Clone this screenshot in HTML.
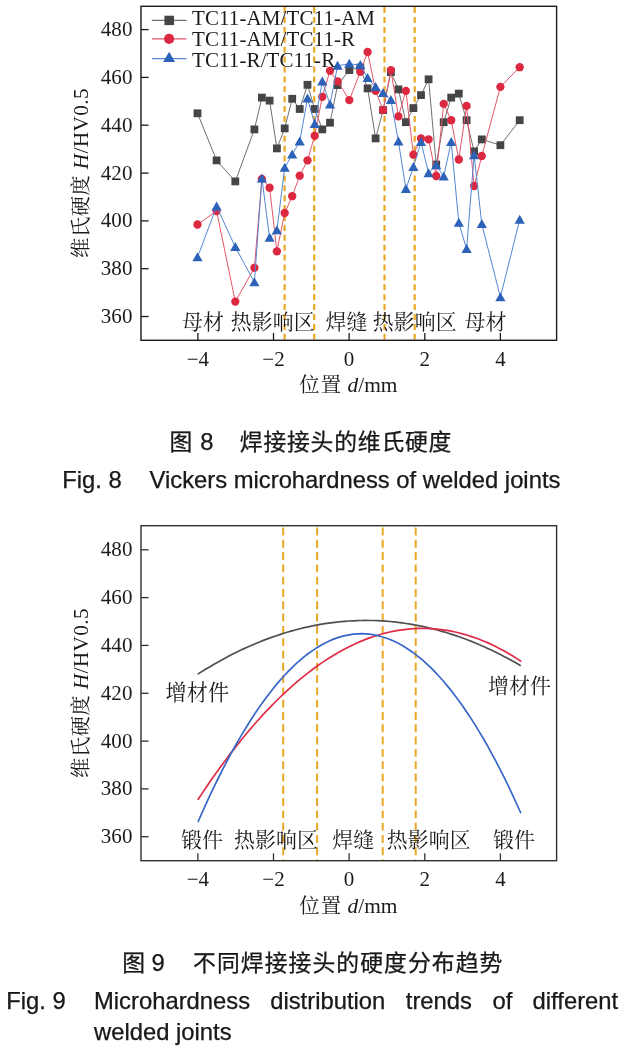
<!DOCTYPE html>
<html lang="zh"><head><meta charset="utf-8"><title>Fig 8-9</title>
<style>html,body{margin:0;padding:0;background:#fff}svg{display:block}text{fill:#1a1a1a}</style></head><body>
<svg width="623" height="1054" viewBox="0 0 623 1054">
<rect width="623" height="1054" fill="#fff"/>
<g id="chart1">
<line x1="284.6" y1="7.1" x2="284.6" y2="339.5" stroke="#e9a825" stroke-width="2.2" stroke-dasharray="6 3.9" stroke-dashoffset="0"/>
<line x1="314.2" y1="7.1" x2="314.2" y2="339.5" stroke="#e9a825" stroke-width="2.2" stroke-dasharray="6 3.9" stroke-dashoffset="0"/>
<line x1="384.5" y1="7.1" x2="384.5" y2="339.5" stroke="#e9a825" stroke-width="2.2" stroke-dasharray="6 3.9" stroke-dashoffset="0"/>
<line x1="414.7" y1="7.1" x2="414.7" y2="339.5" stroke="#e9a825" stroke-width="2.2" stroke-dasharray="6 3.9" stroke-dashoffset="0"/>
<polyline points="197.5,113.3 216.6,160.4 235.3,181.4 254.4,129.4 261.9,97.6 269.6,100.6 276.9,148.4 284.7,128.4 292.2,98.8 299.7,109.0 307.5,84.8 314.7,109.0 322.3,129.4 330.0,122.7 337.6,85.1 349.3,70.1 360.3,67.5 367.6,88.4 375.6,138.4 383.1,110.1 390.9,72.1 398.4,89.4 405.9,122.2 413.4,108.1 421.0,95.1 428.6,79.3 436.2,164.5 443.7,122.2 451.2,97.6 458.8,93.6 466.6,120.2 474.1,151.4 481.8,139.4 500.4,145.2 519.7,120.2" fill="none" stroke="#707070" stroke-width="1"/>
<rect x="193.6" y="109.4" width="7.8" height="7.8" fill="#454547"/>
<rect x="212.7" y="156.5" width="7.8" height="7.8" fill="#454547"/>
<rect x="231.4" y="177.5" width="7.8" height="7.8" fill="#454547"/>
<rect x="250.5" y="125.5" width="7.8" height="7.8" fill="#454547"/>
<rect x="258.0" y="93.7" width="7.8" height="7.8" fill="#454547"/>
<rect x="265.7" y="96.7" width="7.8" height="7.8" fill="#454547"/>
<rect x="273.0" y="144.5" width="7.8" height="7.8" fill="#454547"/>
<rect x="280.8" y="124.5" width="7.8" height="7.8" fill="#454547"/>
<rect x="288.3" y="94.9" width="7.8" height="7.8" fill="#454547"/>
<rect x="295.8" y="105.1" width="7.8" height="7.8" fill="#454547"/>
<rect x="303.6" y="80.9" width="7.8" height="7.8" fill="#454547"/>
<rect x="310.8" y="105.1" width="7.8" height="7.8" fill="#454547"/>
<rect x="318.4" y="125.5" width="7.8" height="7.8" fill="#454547"/>
<rect x="326.1" y="118.8" width="7.8" height="7.8" fill="#454547"/>
<rect x="333.7" y="81.2" width="7.8" height="7.8" fill="#454547"/>
<rect x="345.4" y="66.2" width="7.8" height="7.8" fill="#454547"/>
<rect x="356.4" y="63.6" width="7.8" height="7.8" fill="#454547"/>
<rect x="363.7" y="84.5" width="7.8" height="7.8" fill="#454547"/>
<rect x="371.7" y="134.5" width="7.8" height="7.8" fill="#454547"/>
<rect x="379.2" y="106.2" width="7.8" height="7.8" fill="#454547"/>
<rect x="387.0" y="68.2" width="7.8" height="7.8" fill="#454547"/>
<rect x="394.5" y="85.5" width="7.8" height="7.8" fill="#454547"/>
<rect x="402.0" y="118.3" width="7.8" height="7.8" fill="#454547"/>
<rect x="409.5" y="104.2" width="7.8" height="7.8" fill="#454547"/>
<rect x="417.1" y="91.2" width="7.8" height="7.8" fill="#454547"/>
<rect x="424.7" y="75.4" width="7.8" height="7.8" fill="#454547"/>
<rect x="432.3" y="160.6" width="7.8" height="7.8" fill="#454547"/>
<rect x="439.8" y="118.3" width="7.8" height="7.8" fill="#454547"/>
<rect x="447.3" y="93.7" width="7.8" height="7.8" fill="#454547"/>
<rect x="454.9" y="89.7" width="7.8" height="7.8" fill="#454547"/>
<rect x="462.7" y="116.3" width="7.8" height="7.8" fill="#454547"/>
<rect x="470.2" y="147.5" width="7.8" height="7.8" fill="#454547"/>
<rect x="477.9" y="135.5" width="7.8" height="7.8" fill="#454547"/>
<rect x="496.5" y="141.3" width="7.8" height="7.8" fill="#454547"/>
<rect x="515.8" y="116.3" width="7.8" height="7.8" fill="#454547"/>
<polyline points="197.5,224.5 216.6,211.0 235.3,301.6 254.4,267.8 261.9,178.9 269.6,187.7 276.9,251.3 284.7,213.0 292.2,196.2 299.7,175.7 307.5,160.4 314.7,135.8 322.3,96.8 330.0,70.8 337.6,81.3 349.3,100.1 360.3,71.8 367.6,52.0 375.6,90.9 383.1,110.1 390.9,70.1 398.4,116.4 405.9,90.9 413.4,154.7 421.0,138.4 428.6,139.4 436.2,176.0 443.7,103.9 451.2,120.2 458.8,159.5 466.6,105.9 474.1,186.0 481.8,156.0 500.4,86.9 519.7,67.2" fill="none" stroke="#e4566a" stroke-width="1"/>
<circle cx="197.5" cy="224.5" r="4.15" fill="#dc2840"/>
<circle cx="216.6" cy="211.0" r="4.15" fill="#dc2840"/>
<circle cx="235.3" cy="301.6" r="4.15" fill="#dc2840"/>
<circle cx="254.4" cy="267.8" r="4.15" fill="#dc2840"/>
<circle cx="261.9" cy="178.9" r="4.15" fill="#dc2840"/>
<circle cx="269.6" cy="187.7" r="4.15" fill="#dc2840"/>
<circle cx="276.9" cy="251.3" r="4.15" fill="#dc2840"/>
<circle cx="284.7" cy="213.0" r="4.15" fill="#dc2840"/>
<circle cx="292.2" cy="196.2" r="4.15" fill="#dc2840"/>
<circle cx="299.7" cy="175.7" r="4.15" fill="#dc2840"/>
<circle cx="307.5" cy="160.4" r="4.15" fill="#dc2840"/>
<circle cx="314.7" cy="135.8" r="4.15" fill="#dc2840"/>
<circle cx="322.3" cy="96.8" r="4.15" fill="#dc2840"/>
<circle cx="330.0" cy="70.8" r="4.15" fill="#dc2840"/>
<circle cx="337.6" cy="81.3" r="4.15" fill="#dc2840"/>
<circle cx="349.3" cy="100.1" r="4.15" fill="#dc2840"/>
<circle cx="360.3" cy="71.8" r="4.15" fill="#dc2840"/>
<circle cx="367.6" cy="52.0" r="4.15" fill="#dc2840"/>
<circle cx="375.6" cy="90.9" r="4.15" fill="#dc2840"/>
<circle cx="383.1" cy="110.1" r="4.15" fill="#dc2840"/>
<circle cx="390.9" cy="70.1" r="4.15" fill="#dc2840"/>
<circle cx="398.4" cy="116.4" r="4.15" fill="#dc2840"/>
<circle cx="405.9" cy="90.9" r="4.15" fill="#dc2840"/>
<circle cx="413.4" cy="154.7" r="4.15" fill="#dc2840"/>
<circle cx="421.0" cy="138.4" r="4.15" fill="#dc2840"/>
<circle cx="428.6" cy="139.4" r="4.15" fill="#dc2840"/>
<circle cx="436.2" cy="176.0" r="4.15" fill="#dc2840"/>
<circle cx="443.7" cy="103.9" r="4.15" fill="#dc2840"/>
<circle cx="451.2" cy="120.2" r="4.15" fill="#dc2840"/>
<circle cx="458.8" cy="159.5" r="4.15" fill="#dc2840"/>
<circle cx="466.6" cy="105.9" r="4.15" fill="#dc2840"/>
<circle cx="474.1" cy="186.0" r="4.15" fill="#dc2840"/>
<circle cx="481.8" cy="156.0" r="4.15" fill="#dc2840"/>
<circle cx="500.4" cy="86.9" r="4.15" fill="#dc2840"/>
<circle cx="519.7" cy="67.2" r="4.15" fill="#dc2840"/>
<polyline points="197.5,257.3 216.6,206.5 235.3,247.0 254.4,282.3 261.9,178.4 269.6,237.8 276.9,230.3 284.7,167.7 292.2,154.6 299.7,141.6 307.5,98.4 314.7,124.1 322.3,81.4 330.0,104.4 337.6,65.8 349.3,63.8 360.3,65.1 367.6,78.1 375.6,87.1 383.1,93.1 390.9,100.1 398.4,141.4 405.9,189.0 413.4,167.0 421.0,141.9 428.6,173.2 436.2,165.2 443.7,176.5 451.2,141.9 458.8,222.8 466.6,249.1 474.1,155.2 481.8,224.1 500.4,297.2 519.7,219.8" fill="none" stroke="#5586d4" stroke-width="1"/>
<polygon points="197.5,252.3 192.4,261.3 202.6,261.3" fill="#2c62b8"/>
<polygon points="216.6,201.5 211.5,210.5 221.7,210.5" fill="#2c62b8"/>
<polygon points="235.3,242.0 230.2,251.0 240.4,251.0" fill="#2c62b8"/>
<polygon points="254.4,277.3 249.3,286.3 259.5,286.3" fill="#2c62b8"/>
<polygon points="261.9,173.4 256.8,182.4 267.0,182.4" fill="#2c62b8"/>
<polygon points="269.6,232.8 264.5,241.8 274.7,241.8" fill="#2c62b8"/>
<polygon points="276.9,225.3 271.8,234.3 282.0,234.3" fill="#2c62b8"/>
<polygon points="284.7,162.7 279.6,171.7 289.8,171.7" fill="#2c62b8"/>
<polygon points="292.2,149.6 287.1,158.6 297.3,158.6" fill="#2c62b8"/>
<polygon points="299.7,136.6 294.6,145.6 304.8,145.6" fill="#2c62b8"/>
<polygon points="307.5,93.4 302.4,102.4 312.6,102.4" fill="#2c62b8"/>
<polygon points="314.7,119.1 309.6,128.1 319.8,128.1" fill="#2c62b8"/>
<polygon points="322.3,76.4 317.2,85.4 327.4,85.4" fill="#2c62b8"/>
<polygon points="330.0,99.4 324.9,108.4 335.1,108.4" fill="#2c62b8"/>
<polygon points="337.6,60.8 332.5,69.8 342.7,69.8" fill="#2c62b8"/>
<polygon points="349.3,58.8 344.2,67.8 354.4,67.8" fill="#2c62b8"/>
<polygon points="360.3,60.1 355.2,69.1 365.4,69.1" fill="#2c62b8"/>
<polygon points="367.6,73.1 362.5,82.1 372.7,82.1" fill="#2c62b8"/>
<polygon points="375.6,82.1 370.5,91.1 380.7,91.1" fill="#2c62b8"/>
<polygon points="383.1,88.1 378.0,97.1 388.2,97.1" fill="#2c62b8"/>
<polygon points="390.9,95.1 385.8,104.1 396.0,104.1" fill="#2c62b8"/>
<polygon points="398.4,136.4 393.3,145.4 403.5,145.4" fill="#2c62b8"/>
<polygon points="405.9,184.0 400.8,193.0 411.0,193.0" fill="#2c62b8"/>
<polygon points="413.4,162.0 408.3,171.0 418.5,171.0" fill="#2c62b8"/>
<polygon points="421.0,136.9 415.9,145.9 426.1,145.9" fill="#2c62b8"/>
<polygon points="428.6,168.2 423.5,177.2 433.7,177.2" fill="#2c62b8"/>
<polygon points="436.2,160.2 431.1,169.2 441.3,169.2" fill="#2c62b8"/>
<polygon points="443.7,171.5 438.6,180.5 448.8,180.5" fill="#2c62b8"/>
<polygon points="451.2,136.9 446.1,145.9 456.3,145.9" fill="#2c62b8"/>
<polygon points="458.8,217.8 453.7,226.8 463.9,226.8" fill="#2c62b8"/>
<polygon points="466.6,244.1 461.5,253.1 471.7,253.1" fill="#2c62b8"/>
<polygon points="474.1,150.2 469.0,159.2 479.2,159.2" fill="#2c62b8"/>
<polygon points="481.8,219.1 476.7,228.1 486.9,228.1" fill="#2c62b8"/>
<polygon points="500.4,292.2 495.3,301.2 505.5,301.2" fill="#2c62b8"/>
<polygon points="519.7,214.8 514.6,223.8 524.8,223.8" fill="#2c62b8"/>
<line x1="151.8" y1="20.4" x2="186.4" y2="20.4" stroke="#707070" stroke-width="1.1"/>
<rect x="164.4" y="15.7" width="9.6" height="9.4" fill="#454547"/>
<text x="192.0" y="25.3" font-family='"Liberation Serif","Noto Serif CJK SC",serif' font-size="21" letter-spacing="0.1">TC11-AM/TC11-AM</text>
<line x1="151.8" y1="38.9" x2="186.4" y2="38.9" stroke="#e4566a" stroke-width="1.1"/>
<circle cx="169.1" cy="38.9" r="5.1" fill="#dc2840"/>
<text x="192.0" y="46.0" font-family='"Liberation Serif","Noto Serif CJK SC",serif' font-size="21" letter-spacing="0.1">TC11-AM/TC11-R</text>
<line x1="151.8" y1="58.6" x2="186.4" y2="58.6" stroke="#5586d4" stroke-width="1.1"/>
<polygon points="169.1,51.7 163.1,62.0 175.1,62.0" fill="#2c62b8"/>
<text x="192.0" y="67.0" font-family='"Liberation Serif","Noto Serif CJK SC",serif' font-size="21" letter-spacing="0.1">TC11-R/TC11-R</text>
<text x="182.0" y="328.5" text-anchor="start" font-family='"Liberation Serif","Noto Serif CJK SC",serif' font-size="20.9" font-weight="400" letter-spacing="0.1">母材</text>
<text x="230.8" y="328.5" text-anchor="start" font-family='"Liberation Serif","Noto Serif CJK SC",serif' font-size="20.9" font-weight="400" letter-spacing="0.1">热影响区</text>
<text x="325.6" y="328.5" text-anchor="start" font-family='"Liberation Serif","Noto Serif CJK SC",serif' font-size="20.9" font-weight="400" letter-spacing="0.1">焊缝</text>
<text x="372.8" y="328.5" text-anchor="start" font-family='"Liberation Serif","Noto Serif CJK SC",serif' font-size="20.9" font-weight="400" letter-spacing="0.1">热影响区</text>
<text x="464.6" y="328.5" text-anchor="start" font-family='"Liberation Serif","Noto Serif CJK SC",serif' font-size="20.9" font-weight="400" letter-spacing="0.1">母材</text>
<rect x="141.0" y="6.3" width="415.6" height="334.0" fill="none" stroke="#1a1a1a" stroke-width="1.4"/>
<line x1="141.0" y1="316.5" x2="148.6" y2="316.5" stroke="#1a1a1a" stroke-width="1.3"/>
<text x="132.6" y="322.9" text-anchor="end" font-family='"Liberation Serif","Noto Serif CJK SC",serif' font-size="21" letter-spacing="0.15">360</text>
<line x1="141.0" y1="268.7" x2="148.6" y2="268.7" stroke="#1a1a1a" stroke-width="1.3"/>
<text x="132.6" y="275.1" text-anchor="end" font-family='"Liberation Serif","Noto Serif CJK SC",serif' font-size="21" letter-spacing="0.15">380</text>
<line x1="141.0" y1="220.9" x2="148.6" y2="220.9" stroke="#1a1a1a" stroke-width="1.3"/>
<text x="132.6" y="227.3" text-anchor="end" font-family='"Liberation Serif","Noto Serif CJK SC",serif' font-size="21" letter-spacing="0.15">400</text>
<line x1="141.0" y1="173.1" x2="148.6" y2="173.1" stroke="#1a1a1a" stroke-width="1.3"/>
<text x="132.6" y="179.5" text-anchor="end" font-family='"Liberation Serif","Noto Serif CJK SC",serif' font-size="21" letter-spacing="0.15">420</text>
<line x1="141.0" y1="125.2" x2="148.6" y2="125.2" stroke="#1a1a1a" stroke-width="1.3"/>
<text x="132.6" y="131.6" text-anchor="end" font-family='"Liberation Serif","Noto Serif CJK SC",serif' font-size="21" letter-spacing="0.15">440</text>
<line x1="141.0" y1="77.4" x2="148.6" y2="77.4" stroke="#1a1a1a" stroke-width="1.3"/>
<text x="132.6" y="83.8" text-anchor="end" font-family='"Liberation Serif","Noto Serif CJK SC",serif' font-size="21" letter-spacing="0.15">460</text>
<line x1="141.0" y1="29.6" x2="148.6" y2="29.6" stroke="#1a1a1a" stroke-width="1.3"/>
<text x="132.6" y="36.0" text-anchor="end" font-family='"Liberation Serif","Noto Serif CJK SC",serif' font-size="21" letter-spacing="0.15">480</text>
<line x1="197.9" y1="340.3" x2="197.9" y2="332.90000000000003" stroke="#1a1a1a" stroke-width="1.3"/>
<text x="197.9" y="365.9" text-anchor="middle" font-family='"Liberation Serif","Noto Serif CJK SC",serif' font-size="21">−4</text>
<line x1="273.5" y1="340.3" x2="273.5" y2="332.90000000000003" stroke="#1a1a1a" stroke-width="1.3"/>
<text x="273.5" y="365.9" text-anchor="middle" font-family='"Liberation Serif","Noto Serif CJK SC",serif' font-size="21">−2</text>
<line x1="349.1" y1="340.3" x2="349.1" y2="332.90000000000003" stroke="#1a1a1a" stroke-width="1.3"/>
<text x="349.1" y="365.9" text-anchor="middle" font-family='"Liberation Serif","Noto Serif CJK SC",serif' font-size="21">0</text>
<line x1="424.8" y1="340.3" x2="424.8" y2="332.90000000000003" stroke="#1a1a1a" stroke-width="1.3"/>
<text x="424.8" y="365.9" text-anchor="middle" font-family='"Liberation Serif","Noto Serif CJK SC",serif' font-size="21">2</text>
<line x1="500.4" y1="340.3" x2="500.4" y2="332.90000000000003" stroke="#1a1a1a" stroke-width="1.3"/>
<text x="500.4" y="365.9" text-anchor="middle" font-family='"Liberation Serif","Noto Serif CJK SC",serif' font-size="21">4</text>
<text x="348.4" y="392.3" text-anchor="middle" font-family='"Liberation Serif","Noto Serif CJK SC",serif' font-size="21.4" font-weight="400"><tspan font-size="20.4" letter-spacing="1">位置</tspan> <tspan font-style="italic" font-weight="400">d</tspan><tspan font-weight="400">/mm</tspan></text>
<text transform="translate(87.5,173.0) rotate(-90)" text-anchor="middle" font-family='"Liberation Serif","Noto Serif CJK SC",serif' font-size="21.3" font-weight="400"><tspan font-size="20.3" letter-spacing="0.55">维氏硬度</tspan> <tspan font-style="italic" letter-spacing="0.35">H</tspan><tspan letter-spacing="0.35">/HV0.5</tspan></text>
</g>
<text x="169.6" y="450.2" font-family='"Liberation Sans","Noto Sans CJK SC",sans-serif' font-size="22.8" fill="#000" stroke="#000" stroke-width="0.25" letter-spacing="0.8">图</text>
<text x="200.3" y="450.0" font-family='"Liberation Sans","Noto Sans CJK SC",sans-serif' font-size="23.8" fill="#000" stroke="#000" stroke-width="0.25" >8</text>
<text x="239.8" y="450.2" font-family='"Liberation Sans","Noto Sans CJK SC",sans-serif' font-size="22.8" fill="#000" stroke="#000" stroke-width="0.25" letter-spacing="0.8">焊接接头的维氏硬度</text>
<text x="62.3" y="487.6" font-family='"Liberation Sans","Noto Sans CJK SC",sans-serif' font-size="23.8" fill="#000" stroke="#000" stroke-width="0.25" >Fig. 8</text>
<text x="149.5" y="487.6" font-family='"Liberation Sans","Noto Sans CJK SC",sans-serif' font-size="23.8" fill="#000" stroke="#000" stroke-width="0.25" >Vickers microhardness of welded joints</text>
<g id="chart2">
<line x1="283.2" y1="526.5" x2="283.2" y2="859.9000000000001" stroke="#e9a825" stroke-width="2.0" stroke-dasharray="7.9 4.4" stroke-dashoffset="-1"/>
<line x1="317.1" y1="526.5" x2="317.1" y2="859.9000000000001" stroke="#e9a825" stroke-width="2.0" stroke-dasharray="7.9 4.4" stroke-dashoffset="-1"/>
<line x1="382.7" y1="526.5" x2="382.7" y2="859.9000000000001" stroke="#e9a825" stroke-width="2.0" stroke-dasharray="7.9 4.4" stroke-dashoffset="-1"/>
<line x1="415.7" y1="526.5" x2="415.7" y2="859.9000000000001" stroke="#e9a825" stroke-width="2.0" stroke-dasharray="7.9 4.4" stroke-dashoffset="-1"/>
<polyline points="198.2,673.9 202.3,671.3 206.4,668.8 210.4,666.4 214.5,664.0 218.6,661.7 222.7,659.4 226.7,657.2 230.8,655.1 234.9,653.1 239.0,651.1 243.0,649.1 247.1,647.3 251.2,645.5 255.3,643.7 259.4,642.0 263.4,640.4 267.5,638.9 271.6,637.4 275.7,636.0 279.7,634.6 283.8,633.3 287.9,632.0 292.0,630.9 296.1,629.8 300.1,628.7 304.2,627.7 308.3,626.8 312.4,625.9 316.4,625.1 320.5,624.4 324.6,623.7 328.7,623.1 332.7,622.6 336.8,622.1 340.9,621.7 345.0,621.3 349.1,621.0 353.1,620.8 357.2,620.6 361.3,620.5 365.4,620.4 369.4,620.5 373.5,620.5 377.6,620.7 381.7,620.9 385.8,621.2 389.8,621.5 393.9,621.9 398.0,622.4 402.1,622.9 406.1,623.5 410.2,624.1 414.3,624.8 418.4,625.6 422.4,626.4 426.5,627.3 430.6,628.3 434.7,629.3 438.8,630.4 442.8,631.6 446.9,632.8 451.0,634.1 455.1,635.4 459.1,636.8 463.2,638.3 467.3,639.8 471.4,641.4 475.5,643.0 479.5,644.8 483.6,646.5 487.7,648.4 491.8,650.3 495.8,652.3 499.9,654.3 504.0,656.4 508.1,658.5 512.1,660.8 516.2,663.0 520.3,665.4" fill="none" stroke="#505050" stroke-width="1.7" stroke-linecap="round"/>
<polyline points="198.2,799.2 202.3,793.1 206.4,787.0 210.4,781.1 214.5,775.3 218.6,769.6 222.7,764.0 226.8,758.5 230.8,753.1 234.9,747.9 239.0,742.7 243.1,737.7 247.2,732.8 251.3,728.0 255.3,723.3 259.4,718.7 263.5,714.2 267.6,709.9 271.7,705.7 275.7,701.5 279.8,697.5 283.9,693.6 288.0,689.8 292.1,686.2 296.1,682.6 300.2,679.2 304.3,675.8 308.4,672.6 312.5,669.5 316.5,666.5 320.6,663.6 324.7,660.9 328.8,658.2 332.9,655.7 337.0,653.3 341.0,650.9 345.1,648.7 349.2,646.7 353.3,644.7 357.4,642.8 361.4,641.1 365.5,639.4 369.6,637.9 373.7,636.5 377.8,635.2 381.8,634.0 385.9,632.9 390.0,632.0 394.1,631.1 398.2,630.4 402.3,629.8 406.3,629.3 410.4,628.9 414.5,628.6 418.6,628.4 422.7,628.4 426.7,628.5 430.8,628.6 434.9,628.9 439.0,629.3 443.1,629.8 447.1,630.4 451.2,631.2 455.3,632.0 459.4,633.0 463.5,634.1 467.5,635.3 471.6,636.6 475.7,638.0 479.8,639.5 483.9,641.2 488.0,642.9 492.0,644.8 496.1,646.8 500.2,648.9 504.3,651.1 508.4,653.4 512.4,655.8 516.5,658.4 520.6,661.0" fill="none" stroke="#e02c48" stroke-width="1.7" stroke-linecap="round"/>
<polyline points="198.2,821.5 202.3,812.2 206.4,803.2 210.4,794.4 214.5,785.8 218.6,777.5 222.7,769.4 226.8,761.5 230.8,753.9 234.9,746.5 239.0,739.3 243.1,732.4 247.2,725.7 251.3,719.2 255.3,713.0 259.4,707.0 263.5,701.3 267.6,695.8 271.7,690.5 275.7,685.4 279.8,680.6 283.9,676.0 288.0,671.7 292.1,667.6 296.1,663.7 300.2,660.1 304.3,656.7 308.4,653.5 312.5,650.6 316.5,647.9 320.6,645.4 324.7,643.2 328.8,641.2 332.9,639.4 337.0,637.9 341.0,636.6 345.1,635.6 349.2,634.8 353.3,634.2 357.4,633.8 361.4,633.7 365.5,633.8 369.6,634.2 373.7,634.8 377.8,635.6 381.8,636.7 385.9,638.0 390.0,639.5 394.1,641.3 398.2,643.3 402.3,645.5 406.3,648.0 410.4,650.7 414.5,653.6 418.6,656.8 422.7,660.2 426.7,663.8 430.8,667.7 434.9,671.8 439.0,676.2 443.1,680.8 447.1,685.6 451.2,690.6 455.3,695.9 459.4,701.4 463.5,707.2 467.5,713.2 471.6,719.4 475.7,725.9 479.8,732.6 483.9,739.5 488.0,746.7 492.0,754.1 496.1,761.7 500.2,769.6 504.3,777.7 508.4,786.1 512.4,794.6 516.5,803.5 520.6,812.5" fill="none" stroke="#3866c8" stroke-width="1.7" stroke-linecap="round"/>
<text x="165.6" y="700.2" text-anchor="start" font-family='"Liberation Serif","Noto Serif CJK SC",serif' font-size="21.1" font-weight="400" letter-spacing="0.1">增材件</text>
<text x="488.0" y="692.5" text-anchor="start" font-family='"Liberation Serif","Noto Serif CJK SC",serif' font-size="20.9" font-weight="400" letter-spacing="0.1">增材件</text>
<text x="181.0" y="846.8" text-anchor="start" font-family='"Liberation Serif","Noto Serif CJK SC",serif' font-size="20.9" font-weight="400" letter-spacing="0.1">锻件</text>
<text x="234.0" y="846.8" text-anchor="start" font-family='"Liberation Serif","Noto Serif CJK SC",serif' font-size="20.9" font-weight="400" letter-spacing="0.1">热影响区</text>
<text x="332.2" y="846.8" text-anchor="start" font-family='"Liberation Serif","Noto Serif CJK SC",serif' font-size="20.9" font-weight="400" letter-spacing="0.1">焊缝</text>
<text x="386.8" y="846.8" text-anchor="start" font-family='"Liberation Serif","Noto Serif CJK SC",serif' font-size="20.9" font-weight="400" letter-spacing="0.1">热影响区</text>
<text x="493.0" y="846.8" text-anchor="start" font-family='"Liberation Serif","Noto Serif CJK SC",serif' font-size="20.9" font-weight="400" letter-spacing="0.1">锻件</text>
<rect x="141.0" y="525.7" width="415.6" height="335.0" fill="none" stroke="#303030" stroke-width="1.4"/>
<line x1="141.0" y1="836.7" x2="148.6" y2="836.7" stroke="#303030" stroke-width="1.3"/>
<text x="132.6" y="843.1" text-anchor="end" font-family='"Liberation Serif","Noto Serif CJK SC",serif' font-size="21" letter-spacing="0.15">360</text>
<line x1="141.0" y1="788.9" x2="148.6" y2="788.9" stroke="#303030" stroke-width="1.3"/>
<text x="132.6" y="795.3" text-anchor="end" font-family='"Liberation Serif","Noto Serif CJK SC",serif' font-size="21" letter-spacing="0.15">380</text>
<line x1="141.0" y1="741.1" x2="148.6" y2="741.1" stroke="#303030" stroke-width="1.3"/>
<text x="132.6" y="747.5" text-anchor="end" font-family='"Liberation Serif","Noto Serif CJK SC",serif' font-size="21" letter-spacing="0.15">400</text>
<line x1="141.0" y1="693.3" x2="148.6" y2="693.3" stroke="#303030" stroke-width="1.3"/>
<text x="132.6" y="699.7" text-anchor="end" font-family='"Liberation Serif","Noto Serif CJK SC",serif' font-size="21" letter-spacing="0.15">420</text>
<line x1="141.0" y1="645.4" x2="148.6" y2="645.4" stroke="#303030" stroke-width="1.3"/>
<text x="132.6" y="651.8" text-anchor="end" font-family='"Liberation Serif","Noto Serif CJK SC",serif' font-size="21" letter-spacing="0.15">440</text>
<line x1="141.0" y1="597.6" x2="148.6" y2="597.6" stroke="#303030" stroke-width="1.3"/>
<text x="132.6" y="604.0" text-anchor="end" font-family='"Liberation Serif","Noto Serif CJK SC",serif' font-size="21" letter-spacing="0.15">460</text>
<line x1="141.0" y1="549.8" x2="148.6" y2="549.8" stroke="#303030" stroke-width="1.3"/>
<text x="132.6" y="556.2" text-anchor="end" font-family='"Liberation Serif","Noto Serif CJK SC",serif' font-size="21" letter-spacing="0.15">480</text>
<line x1="197.9" y1="860.7" x2="197.9" y2="853.3000000000001" stroke="#303030" stroke-width="1.3"/>
<text x="197.9" y="886.3" text-anchor="middle" font-family='"Liberation Serif","Noto Serif CJK SC",serif' font-size="21">−4</text>
<line x1="273.5" y1="860.7" x2="273.5" y2="853.3000000000001" stroke="#303030" stroke-width="1.3"/>
<text x="273.5" y="886.3" text-anchor="middle" font-family='"Liberation Serif","Noto Serif CJK SC",serif' font-size="21">−2</text>
<line x1="349.1" y1="860.7" x2="349.1" y2="853.3000000000001" stroke="#303030" stroke-width="1.3"/>
<text x="349.1" y="886.3" text-anchor="middle" font-family='"Liberation Serif","Noto Serif CJK SC",serif' font-size="21">0</text>
<line x1="424.8" y1="860.7" x2="424.8" y2="853.3000000000001" stroke="#303030" stroke-width="1.3"/>
<text x="424.8" y="886.3" text-anchor="middle" font-family='"Liberation Serif","Noto Serif CJK SC",serif' font-size="21">2</text>
<line x1="500.4" y1="860.7" x2="500.4" y2="853.3000000000001" stroke="#303030" stroke-width="1.3"/>
<text x="500.4" y="886.3" text-anchor="middle" font-family='"Liberation Serif","Noto Serif CJK SC",serif' font-size="21">4</text>
<text x="348.4" y="912.7" text-anchor="middle" font-family='"Liberation Serif","Noto Serif CJK SC",serif' font-size="21.4" font-weight="400"><tspan font-size="20.4" letter-spacing="1">位置</tspan> <tspan font-style="italic" font-weight="400">d</tspan><tspan font-weight="400">/mm</tspan></text>
<text transform="translate(87.5,693) rotate(-90)" text-anchor="middle" font-family='"Liberation Serif","Noto Serif CJK SC",serif' font-size="21.3" font-weight="400"><tspan font-size="20.3" letter-spacing="0.55">维氏硬度</tspan> <tspan font-style="italic" letter-spacing="0.35">H</tspan><tspan letter-spacing="0.35">/HV0.5</tspan></text>
</g>
<text x="122.3" y="971.2" font-family='"Liberation Sans","Noto Sans CJK SC",sans-serif' font-size="22.8" fill="#000" stroke="#000" stroke-width="0.25" letter-spacing="0.8">图</text>
<text x="151.4" y="971.0" font-family='"Liberation Sans","Noto Sans CJK SC",sans-serif' font-size="23.8" fill="#000" stroke="#000" stroke-width="0.25" >9</text>
<text x="193.0" y="971.2" font-family='"Liberation Sans","Noto Sans CJK SC",sans-serif' font-size="22.8" fill="#000" stroke="#000" stroke-width="0.25" letter-spacing="1.08">不同焊接接头的硬度分布趋势</text>
<text x="6.2" y="1008.8" font-family='"Liberation Sans","Noto Sans CJK SC",sans-serif' font-size="23.8" fill="#000" stroke="#000" stroke-width="0.25" >Fig. 9</text>
<text x="94.0" y="1008.8" font-family='"Liberation Sans","Noto Sans CJK SC",sans-serif' font-size="23.8" fill="#000" stroke="#000" stroke-width="0.25" >Microhardness</text>
<text x="270.2" y="1008.8" font-family='"Liberation Sans","Noto Sans CJK SC",sans-serif' font-size="23.8" fill="#000" stroke="#000" stroke-width="0.25" >distribution</text>
<text x="405.8" y="1008.8" font-family='"Liberation Sans","Noto Sans CJK SC",sans-serif' font-size="23.8" fill="#000" stroke="#000" stroke-width="0.25" >trends</text>
<text x="492.6" y="1008.8" font-family='"Liberation Sans","Noto Sans CJK SC",sans-serif' font-size="23.8" fill="#000" stroke="#000" stroke-width="0.25" >of</text>
<text x="532.6" y="1008.8" font-family='"Liberation Sans","Noto Sans CJK SC",sans-serif' font-size="23.8" fill="#000" stroke="#000" stroke-width="0.25" >different</text>
<text x="94.0" y="1040.4" font-family='"Liberation Sans","Noto Sans CJK SC",sans-serif' font-size="23.8" fill="#000" stroke="#000" stroke-width="0.25" >welded joints</text>
</svg></body></html>
